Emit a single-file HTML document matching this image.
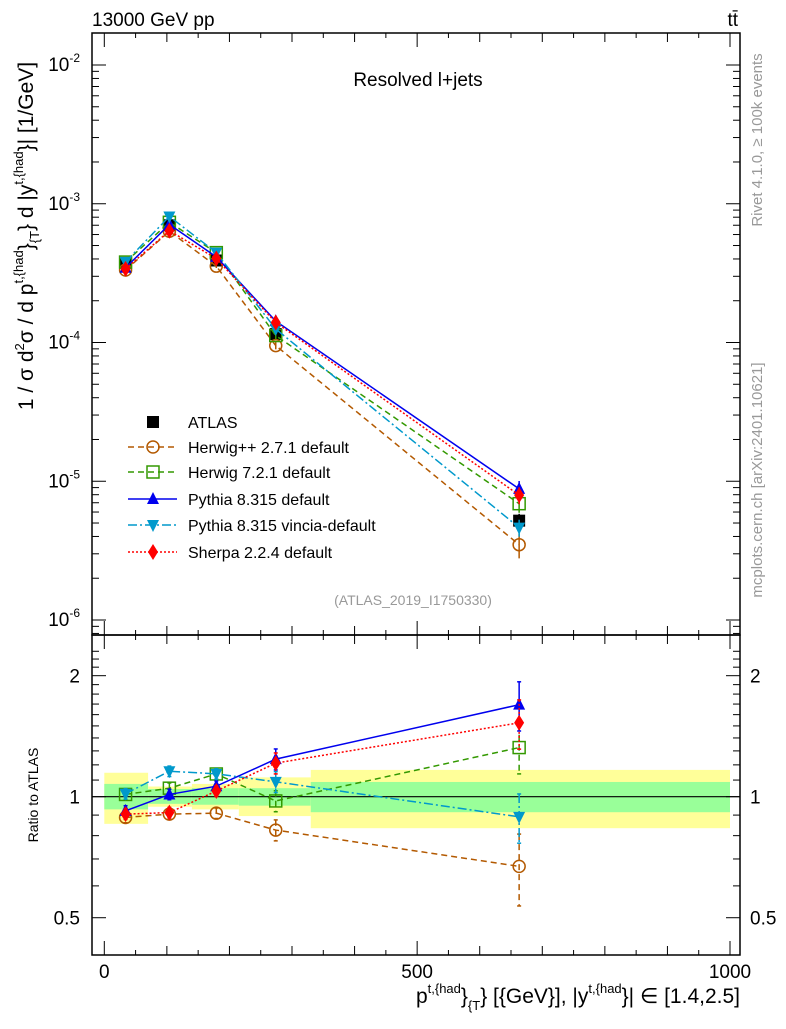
<!DOCTYPE html>
<html><head><meta charset="utf-8"><style>
body{margin:0;background:#fff}
svg{font-family:"Liberation Sans","DejaVu Sans",sans-serif}
</style></head><body>
<svg id="c" width="786" height="1024" xmlns="http://www.w3.org/2000/svg">
<g id="bands"></g>
<g id="grid"></g>
<g id="marks"></g>
<rect x="92" y="33" width="648" height="602" fill="none" stroke="#000" stroke-width="1.5"/>
<rect x="92" y="635" width="648" height="320" fill="none" stroke="#000" stroke-width="1.5"/>
<text x="92" y="26" font-size="19">13000 GeV pp</text>
<text x="738" y="26" font-size="19" text-anchor="end">tt̄</text>
<text x="418" y="86" font-size="19" text-anchor="middle">Resolved l+jets</text>
<text x="413" y="605" font-size="14" fill="#999" text-anchor="middle">(ATLAS_2019_I1750330)</text>
<text transform="translate(762,140) rotate(-90)" font-size="15" fill="#999" text-anchor="middle">Rivet 4.1.0, ≥ 100k events</text>
<text transform="translate(762,480) rotate(-90)" font-size="15" fill="#999" text-anchor="middle">mcplots.cern.ch [arXiv:2401.10621]</text>
<text transform="translate(33,236) rotate(-90)" font-size="21" text-anchor="middle">1 / σ d<tspan font-size="13" dy="-9">2</tspan><tspan dy="9">σ / d p</tspan><tspan font-size="13" dy="-10">t,{had</tspan><tspan dy="10">}</tspan><tspan font-size="13" dy="6">{T</tspan><tspan dy="-6">} d |y</tspan><tspan font-size="13" dy="-10">t,{had</tspan><tspan dy="10">}| [1/GeV]</tspan></text>
<text transform="translate(38,795) rotate(-90)" font-size="14" text-anchor="middle">Ratio to ATLAS</text>
<text x="740" y="1003" font-size="21" text-anchor="end">p<tspan font-size="13" dy="-10">t,{had</tspan><tspan dy="10">}</tspan><tspan font-size="13" dy="7">{T</tspan><tspan dy="-7">} [{GeV}], |y</tspan><tspan font-size="13" dy="-10">t,{had</tspan><tspan dy="10">}| ∈ [1.4,2.5]</tspan></text>
<g id="legend"></g>
</svg>
<script>
const xVals=[34,104,179,274,663];
const binEdges=[0,70,140,215,330,1000];
const atlas=[3.75e-4,7.0e-4,3.9e-4,1.15e-4,5.2e-6];
const atlasErr=[0.03,0.03,0.03,0.05,0.12];
const yellowHi=[1.147,1.06,1.076,1.117,1.166];
const yellowLo=[0.856,0.944,0.93,0.895,0.835];
const greenHi=[1.076,1.045,1.05,1.05,1.088];
const greenLo=[0.93,0.96,0.955,0.95,0.915];
const herwigpp=[0.888,0.905,0.91,0.826,0.671];
const herwig7=[1.013,1.05,1.139,0.976,1.325];
const pythia=[0.922,1.013,1.062,1.24,1.694];
const vincia=[1.017,1.157,1.14,1.089,0.891];
const sherpa=[0.905,0.913,1.033,1.212,1.527];
const mcErr=[0.03,0.03,0.03,0.06,0.14];
const NS="http://www.w3.org/2000/svg";
const X=v=>104.3+v*0.6257;
const YM=v=>620-(Math.log10(v)+6)*138.75;
const YR=v=>796.7-Math.log10(v)*402;
function el(t,a,p){const e=document.createElementNS(NS,t);for(const k in a)e.setAttribute(k,a[k]);(p||document.getElementById('marks')).appendChild(e);return e;}
const bands=document.getElementById('bands');
for(let i=0;i<5;i++){
 const x0=X(binEdges[i]),x1=X(binEdges[i+1]);
 const y=el('rect',{x:x0,y:YR(yellowHi[i]),width:x1-x0,height:YR(yellowLo[i])-YR(yellowHi[i]),fill:'#ffff99'},bands);
 
 
 const g=el('rect',{x:x0,y:YR(greenHi[i]),width:x1-x0,height:YR(greenLo[i])-YR(greenHi[i]),fill:'#99ff99'},bands);
 
 
}
const grid=document.getElementById('grid');
el('line',{x1:92,x2:740,y1:YR(1),y2:YR(1),stroke:'#000','stroke-width':1.2},grid);
for(let d=-7;d<=-2;d++){for(let m=1;m<10;m++){const v=m*Math.pow(10,d);const y=YM(v);if(y<34||y>634)continue;const L=m==1?14:7;
 el('line',{x1:92,x2:92+L,y1:y,y2:y,stroke:'#000'},grid);el('line',{x1:740,x2:740-L,y1:y,y2:y,stroke:'#000'},grid);}}
[-6,-5,-4,-3,-2].forEach(d=>{const t=el('text',{x:80,y:YM(Math.pow(10,d))+6,'font-size':19,'text-anchor':'end'},grid);t.innerHTML='10<tspan font-size="12" dy="-9">'+d+'</tspan>';
 
 });
[0.4,0.5,0.6,0.7,0.8,0.9,1,1.1,1.2,1.3,1.4,1.5,1.6,1.7,1.8,1.9,2,2.1,2.2,2.3].forEach(v=>{const y=YR(v);if(y<636||y>954)return;const L=[0.5,1,2].includes(v)?14:7;
 el('line',{x1:92,x2:92+L,y1:y,y2:y,stroke:'#000'},grid);el('line',{x1:740,x2:740-L,y1:y,y2:y,stroke:'#000'},grid);});
[[0.5,'0.5'],[1,'1'],[2,'2']].forEach(([v,s])=>{const a=el('text',{x:80,y:YR(v)+7,'font-size':19,'text-anchor':'end'},grid);a.textContent=s;
 
 
 const b=el('text',{x:750,y:YR(v)+7,'font-size':19},grid);b.textContent=s;
 
 });
for(let v=0;v<=1000;v+=50){const x=X(v);const L=v%500==0?14:(v%100==0?9:5);
 el('line',{x1:x,x2:x,y1:955,y2:955-L,stroke:'#000'},grid);el('line',{x1:x,x2:x,y1:635,y2:635-L,stroke:'#000'},grid);
 el('line',{x1:x,x2:x,y1:33,y2:33+L,stroke:'#000'},grid);el('line',{x1:x,x2:x,y1:635,y2:635+L,stroke:'#000'},grid);}
[0,500,1000].forEach(v=>{const t=el('text',{x:X(v),y:978,'font-size':19,'text-anchor':'middle'},grid);t.textContent=v;
 
 });
function marker(type,x,y,col,p){
 if(type=='circle')return el('circle',{cx:x,cy:y,r:6,fill:'none',stroke:col,'stroke-width':1.5},p);
 if(type=='square')return el('rect',{x:x-6,y:y-6,width:12,height:12,fill:'none',stroke:col,'stroke-width':1.5},p);
 if(type=='fsquare')return el('rect',{x:x-6,y:y-6,width:12,height:12,fill:col},p);
 if(type=='up')return el('polygon',{points:`${x-6},${y+5} ${x+6},${y+5} ${x},${y-7}`,fill:col},p);
 if(type=='down')return el('polygon',{points:`${x-6},${y-5} ${x+6},${y-5} ${x},${y+7}`,fill:col},p);
 if(type=='diamond')return el('polygon',{points:`${x},${y-8} ${x+5},${y} ${x},${y+8} ${x-5},${y}`,fill:col},p);
}
const series=[
 ['herwigpp','Herwig++ 2.7.1 default',herwigpp,'#b35900','6,4','circle',[1,1,1,1,1.45]],
 ['herwig7','Herwig 7.2.1 default',herwig7,'#339900','6,4','square',[1,1,1,1,1]],
 ['pythia','Pythia 8.315 default',pythia,'#0000ee','','up',[1,1,1,1,1]],
 ['vincia','Pythia 8.315 vincia-default',vincia,'#0099cc','9,3,2,3','down',[1,1,1,1,1]],
 ['sherpa','Sherpa 2.2.4 default',sherpa,'#ff0000','2,2','diamond',[1,1,1,1,1]]
];
series.forEach(([id,name,r,col,dash,mk,ef])=>{
 const main=r.map((v,i)=>v*atlas[i]);
 const g=el('g',{});
 
 
 el('polyline',{points:main.map((v,i)=>X(xVals[i])+','+YM(v)).join(' '),fill:'none',stroke:col,'stroke-width':1.5,'stroke-dasharray':dash},g);
 el('polyline',{points:r.map((v,i)=>X(xVals[i])+','+YR(v)).join(' '),fill:'none',stroke:col,'stroke-width':1.5,'stroke-dasharray':dash},g);
 r.forEach((v,i)=>{const x=X(xVals[i]);const e=mcErr[i]*ef[i];
  el('line',{x1:x,x2:x,y1:YR(v*(1+e)),y2:YR(v*(1-e)),stroke:col,'stroke-width':1.5,'stroke-dasharray':dash},g);
  el('line',{x1:x-2,x2:x+2,y1:YR(v*(1+e)),y2:YR(v*(1+e)),stroke:col,'stroke-width':1.5},g);
  el('line',{x1:x-2,x2:x+2,y1:YR(v*(1-e)),y2:YR(v*(1-e)),stroke:col,'stroke-width':1.5},g);
  el('line',{x1:x,x2:x,y1:YM(main[i]*(1+e)),y2:YM(main[i]*(1-e)),stroke:col,'stroke-width':1.5},g);
  const m1=marker(mk,x,YM(main[i]),col,g);
  
  
  const m2=marker(mk,x,YR(v),col,g);
  
  
 });
});
const ga=el('g',{});


atlas.forEach((v,i)=>{const x=X(xVals[i]);
 el('line',{x1:x,x2:x,y1:YM(v*(1+atlasErr[i])),y2:YM(v*(1-atlasErr[i])),stroke:'#000','stroke-width':1.5},ga);
 const m=marker('fsquare',x,YM(v),'#000',ga);
 
 
});
const marks=document.getElementById('marks');marks.insertBefore(ga,marks.firstChild);
const lg=document.getElementById('legend');
const rowsY=[422,447,472,499,525,552];
const li=el('g',{},lg);


marker('fsquare',153,rowsY[0],'#000',li);
el('text',{x:188,y:rowsY[0]+6,'font-size':16},li).textContent='ATLAS';
series.forEach(([id,name,r,col,dash,mk],k)=>{const y=rowsY[k+1];
 const g=el('g',{},lg);
 
 
 el('line',{x1:128,x2:177,y1:y,y2:y,stroke:col,'stroke-width':1.5,'stroke-dasharray':dash},g);
 marker(mk,153,y,col,g);
 el('text',{x:188,y:y+6,'font-size':16},g).textContent=name;});
</script>
</body></html>
